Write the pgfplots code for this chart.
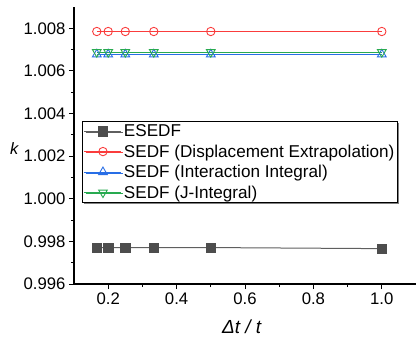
\documentclass[border=0pt]{standalone}
\usepackage{fontspec}
\setmainfont{Liberation Sans}
\usepackage{pgfplots}
\pgfplotsset{compat=1.18}
\usetikzlibrary{shadows}
\definecolor{cgray}{RGB}{77,77,77}
\definecolor{lgray}{RGB}{95,95,95}
\definecolor{cred}{RGB}{250,60,60}
\definecolor{cblue}{RGB}{40,110,230}
\definecolor{cgreen}{RGB}{40,170,80}
\begin{document}
\begin{tikzpicture}
\begin{axis}[name=ax, scale only axis, width=342bp, height=277bp,
  xmin=0.1, xmax=1.1, ymin=0.996, ymax=1.009,
  axis lines*=left, axis line style={line width=1.1bp,-},
  tick align=outside, tick style={black, line width=1bp},
  major tick length=5bp, minor tick length=3bp,
  xtick={0.2,0.4,0.6,0.8,1.0}, minor x tick num=1,
  ytick={0.996,0.998,1.000,1.002,1.004,1.006,1.008}, minor y tick num=1,
  /pgf/number format/assume math mode=true,
  xticklabel style={/pgf/number format/.cd, fixed, fixed zerofill, precision=1},
  yticklabel style={/pgf/number format/.cd, fixed, fixed zerofill, precision=3},
  ticklabel style={font=\fontsize{16.8}{19}\selectfont},
  scaled y ticks=false, scaled x ticks=false,
  xlabel={\textit{Δt / t}},
  xlabel style={font=\fontsize{19}{22}\selectfont, at={(axis description cs:0.5,0)}, anchor=center, yshift=-43bp, xshift=-3bp},
  ylabel={\textit{k}},
  ylabel style={font=\fontsize{16.5}{19}\selectfont, at={(axis description cs:0,0.489)}, anchor=center, rotate=-90, xshift=-59.5bp},
  legend style={at={(0.0234,0.588)}, anchor=north west, draw=black, line width=0.9bp, fill=white,
    font=\fontsize{17.2}{19}\selectfont, inner xsep=1.5bp, inner ysep=1bp, row sep=2.6bp,
    drop shadow={shadow xshift=1.3bp, shadow yshift=-1.3bp, fill=gray, opacity=1}},
  legend cell align=left,
  legend image code/.code={\draw[mark repeat=2,mark phase=2] plot coordinates {(0bp,0bp)(18.5bp,0bp)(37bp,0bp)};},
]
\addplot[lgray, line width=1bp, mark=square*, mark size=4.6bp, mark options={cgray, fill=cgray, line width=0.5bp}] coordinates {
(0.16667,0.99771)(0.2,0.99771)(0.25,0.99771)(0.33333,0.99771)(0.5,0.99771)(1.0,0.99766)};
\addlegendentry{ESEDF}
\addplot[cred, line width=1bp, mark=o, mark size=4.2bp, mark options={cred, fill=white, line width=0.9bp}] coordinates {
(0.16667,1.00785)(0.2,1.00785)(0.25,1.00785)(0.33333,1.00785)(0.5,1.00785)(1.0,1.00785)};
\addlegendentry{SEDF (Displacement Extrapolation)}
\addplot[cblue, line width=1bp, mark=triangle, mark size=5bp, mark options={cblue, line width=0.9bp}] coordinates {
(0.16667,1.00678)(0.2,1.00678)(0.25,1.00678)(0.33333,1.00678)(0.5,1.00678)(1.0,1.00678)};
\addlegendentry{SEDF (Interaction Integral)}
\addplot[cgreen, line width=1bp, mark=triangle, mark size=5bp, mark options={cgreen, rotate=180, line width=0.9bp}] coordinates {
(0.16667,1.00688)(0.2,1.00688)(0.25,1.00688)(0.33333,1.00688)(0.5,1.00688)(1.0,1.00688)};
\addlegendentry{SEDF (J-Integral)}
\coordinate (SW) at (rel axis cs:0,0);
\coordinate (NE) at (rel axis cs:1,1);
\end{axis}
\pgfresetboundingbox
\path[use as bounding box] ([xshift=-74bp,yshift=-53bp]SW) rectangle ([yshift=7bp]NE);
\end{tikzpicture}
\end{document}
